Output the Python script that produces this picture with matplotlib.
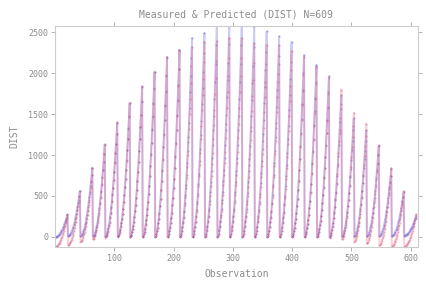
import numpy as np
import matplotlib.pyplot as plt

# 29 cycles of 21 observations each (N = 609)
n_per_cycle = 21

# shape of one cycle (fraction of the way from trough to peak)
cycle_profile = [0.00, 0.005, 0.015, 0.03, 0.05, 0.075, 0.10, 0.13, 0.17, 0.21, 0.26,
                 0.31, 0.37, 0.43, 0.50, 0.57, 0.65, 0.73, 0.81, 0.90, 1.00]

measured_peaks = [275, 560, 845, 1125, 1395, 1630, 1835, 2020, 2200, 2285,
                  2430, 2490, 2600, 2620, 2600, 2580, 2510, 2450, 2380, 2220,
                  2100, 1960, 1730, 1450, 1300, 1110, 825, 545, 260]
predicted_peaks = [270, 555, 840, 1130, 1400, 1640, 1840, 2010, 2190, 2280,
                   2315, 2380, 2390, 2425, 2425, 2365, 2340, 2340, 2270, 2200,
                   2080, 1945, 1800, 1515, 1380, 1120, 840, 560, 275]
measured_troughs = [0, 10, 10, 5, 5, 5, 0, 0, 0, 0,
                    0, 0, 0, 0, 0, 0, 0, 0, 0, 0,
                    0, 0, 0, 5, 5, 5, 10, 10, 15]
predicted_troughs = [-120, -100, -60, -30, -10, 0, 0, 0, 0, 0,
                     0, 0, 0, 0, 0, 0, 0, 0, 0, 0,
                     0, 0, -10, -30, -60, -80, -100, -120, -120]

def build(peaks, troughs):
    vals = []
    for p, t in zip(peaks, troughs):
        for f in cycle_profile:
            vals.append(t + (p - t) * f)
    return np.array(vals)

measured = build(measured_peaks, measured_troughs)
predicted = build(predicted_peaks, predicted_troughs)
obs = np.arange(1, len(measured) + 1)

fig = plt.figure(figsize=(4.26, 2.90), dpi=100)
ax = fig.add_axes([0.129, 0.148, 0.852, 0.762])

ax.plot(obs, measured, color='#6a6ae8', lw=1.4, alpha=0.35)
ax.plot(obs, measured, ls='none', marker='.', ms=0.9, color='#5a50c8', alpha=0.45)
ax.plot(obs, predicted, color='#e85070', lw=1.4, alpha=0.28)
ax.plot(obs, predicted, ls='none', marker='.', ms=0.8, color='#c83060', alpha=0.4)

ax.set_xlim(0, 612)
ax.set_ylim(-125, 2575)
ax.set_xticks([100, 200, 300, 400, 500, 600])
ax.set_yticks([0, 500, 1000, 1500, 2000, 2500])

gray = '#8c8c8c'
for s in ax.spines.values():
    s.set_color('#cccccc')
    s.set_linewidth(0.8)
ax.tick_params(direction='out', length=3, width=0.7, colors='#b4b4b4',
               labelcolor=gray, labelsize=6, top=True, right=True,
               labeltop=False, labelright=False, pad=2)
for lab in ax.get_xticklabels() + ax.get_yticklabels():
    lab.set_family('DejaVu Sans Mono')

ax.set_title('Measured & Predicted (DIST) N=609', fontsize=7, color=gray,
             family='DejaVu Sans Mono', pad=6)
ax.set_xlabel('Observation', fontsize=7, color=gray, family='DejaVu Sans Mono', labelpad=4)
ax.set_ylabel('DIST', fontsize=7, color=gray, family='DejaVu Sans Mono', labelpad=6)

fig.savefig('out.png', dpi=100)
